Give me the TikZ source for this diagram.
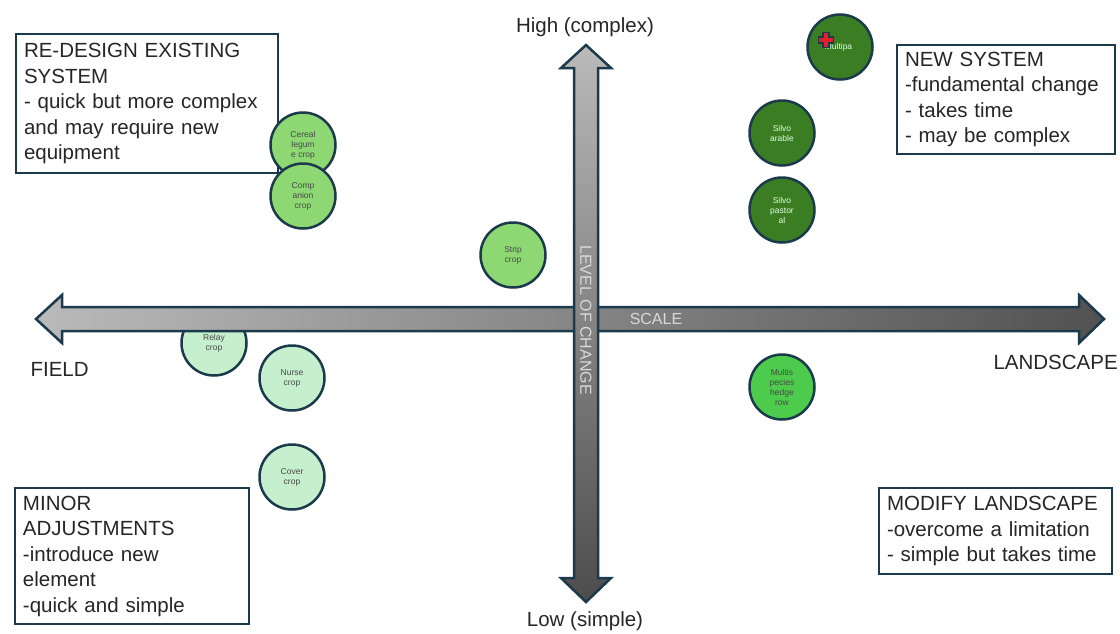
\documentclass[tikz,border=0pt]{standalone}
\usepackage{fontspec}
\setmainfont{Liberation Sans}
\definecolor{navy}{HTML}{1B3A4B}
\definecolor{inkgray}{HTML}{262626}
\definecolor{darkgreen}{HTML}{3B7D23}
\definecolor{midgreen}{HTML}{8ED873}
\definecolor{brightgreen}{HTML}{4CCB4C}
\definecolor{palegreen}{HTML}{C6EFCE}
\definecolor{crossred}{HTML}{E0202A}
\begin{document}
\begin{tikzpicture}[x=1pt,y=-1pt,
  infobox/.style={draw=navy, line width=2pt, fill=white, text=inkgray,
    font=\fontsize{20.5}{25.5}\selectfont, align=left, anchor=north west,
    inner xsep=8pt, inner ysep=4pt},
  practice/.style={circle, draw=navy, line width=2.5pt, minimum size=65pt,
    inner sep=0pt, align=center, font=\fontsize{8.5}{10}\selectfont},
  lightpractice/.style={practice, fill=palegreen, text=inkgray!85},
  midpractice/.style={practice, fill=midgreen, text=inkgray!85},
  brightpractice/.style={practice, fill=brightgreen, text=inkgray!85},
  darkpractice/.style={practice, fill=darkgreen, text=white!88!green},
  axislabel/.style={text=inkgray, font=\fontsize{20.5}{24}\selectfont},
  axisarrow/.style={draw=navy, line width=2.5pt, line join=miter},
  axistext/.style={text=white!85!black, font=\fontsize{16}{18}\selectfont}]

\useasboundingbox[fill=white] (0,0) rectangle (1120,633);

% quadrant descriptions
\node[infobox, minimum width=262pt, minimum height=139pt, text width=246pt] (redesign) at (15,33)
  {RE-DESIGN EXISTING\\SYSTEM\\- quick but more complex\\and may require new\\equipment};
\node[infobox, minimum width=218pt, minimum height=109pt, text width=202pt] (newsys) at (896,44)
  {NEW SYSTEM\\-fundamental change\\- takes time\\- may be complex};
\node[infobox, minimum width=234pt, minimum height=136pt, text width=218pt] (minor) at (14,487)
  {MINOR\\ADJUSTMENTS\\-introduce new\\element\\-quick and simple};
\node[infobox, minimum width=233pt, minimum height=86pt, text width=217pt] (modify) at (878,487)
  {MODIFY LANDSCAPE\\-overcome a limitation\\- simple but takes time};

% practices
\node[midpractice] (cereal) at (303,145) {Cereal\\legum\\e crop};
\node[midpractice] (companion) at (303,196) {Comp\\anion\\crop};
\node[midpractice] (strip) at (513,255) {Strip\\crop};
\node[darkpractice] (alley) at (840,47) {\raisebox{-2pt}{\hspace*{-3pt}Multipa}};
\node[darkpractice] (silvoarable) at (782,133) {Silvo\\arable};
\node[darkpractice] (silvopastoral) at (782,210) {Silvo\\pastor\\al};
\node[brightpractice] (hedgerow) at (782,387) {Multis\\pecies\\hedge\\row};
\node[lightpractice] (relay) at (214,343) {Relay\\crop};
\node[lightpractice] (nurse) at (292,378) {Nurse\\crop};
\node[lightpractice] (cover) at (292,477) {Cover\\crop};

% small cross marker on the alley circle
\draw[fill=crossred, draw=navy, line width=1.8pt, line join=miter]
  (823,32.5) -- (829,32.5) -- (829,37) -- (833.5,37) -- (833.5,43) -- (829,43)
  -- (829,47.5) -- (823,47.5) -- (823,43) -- (818.5,43) -- (818.5,37) -- (823,37) -- cycle;

% scale axis (horizontal)
\draw[axisarrow, left color=black!27, right color=black!68]
  (36,319) -- (62,295) -- (62,307) -- (1079,307) -- (1079,295) -- (1104,319)
  -- (1079,343) -- (1079,331) -- (62,331) -- (62,343) -- cycle;

% level of change axis (vertical)
\draw[axisarrow, top color=black!27, bottom color=black!70]
  (586,45) -- (611,68) -- (598,68) -- (598,578) -- (611,578) -- (586,602)
  -- (561,578) -- (574,578) -- (574,68) -- (561,68) -- cycle;

\node[axistext] (scale) at (656,319) {SCALE};
\node[axistext, rotate=-90] (level) at (586,320) {LEVEL OF CHANGE};

% axis end labels
\node[axislabel] (high) at (585,27) {High (complex)};
\node[axislabel] (low) at (585,621) {Low (simple)};
\node[axislabel, anchor=west] (field) at (27,369) {FIELD};
\node[axislabel, anchor=west] (landscape) at (990,362) {LANDSCAPE};

\end{tikzpicture}
\end{document}
